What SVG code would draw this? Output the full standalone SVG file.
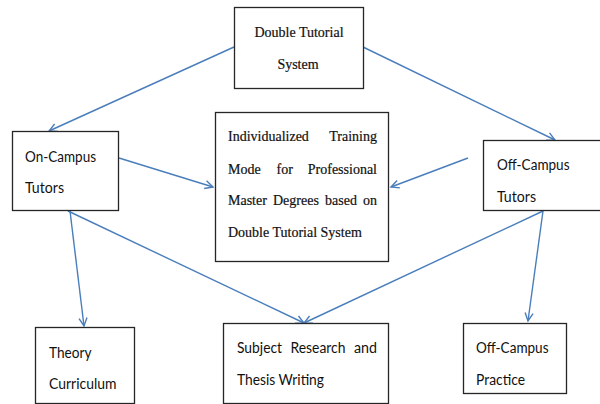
<svg xmlns="http://www.w3.org/2000/svg" width="600" height="404" viewBox="0 0 600 404">
<defs>
<style>
.box{fill:#fff;stroke:#262626;stroke-width:1.3}
.ser{font-family:"Liberation Serif","Times New Roman",serif;font-size:14px;fill:#111;stroke:#111;stroke-width:0.2}
.san{font-family:Lato,"Liberation Sans",Arial,sans-serif;font-size:14.5px;fill:#111}
.con{stroke:#4A7EBB;stroke-width:1.4;fill:none;marker-end:url(#arr)}
</style>
<marker id="arr" markerUnits="userSpaceOnUse" markerWidth="12" markerHeight="12" refX="10" refY="6" orient="auto">
<path d="M2,2 L10,6 L2,10" fill="none" stroke="#4A7EBB" stroke-width="1.4"/>
</marker>
</defs>
<rect width="600" height="404" fill="#fff"/>
<g id="connectors">
<line class="con" x1="234" y1="47" x2="49" y2="131"/>
<line class="con" x1="363" y1="47" x2="555" y2="140"/>
<line class="con" x1="119" y1="158" x2="213" y2="187"/>
<line class="con" x1="468" y1="158" x2="391" y2="187"/>
<line class="con" x1="70" y1="211" x2="84" y2="326"/>
<line class="con" x1="68" y1="211" x2="304" y2="323"/>
<line class="con" x1="543" y1="211" x2="304" y2="323"/>
<line class="con" x1="543" y1="211" x2="528" y2="321"/>
</g>
<g id="top">
<rect class="box" x="234.5" y="7.5" width="129" height="81"/>
<text class="ser" x="299" y="37" text-anchor="middle">Double Tutorial</text>
<text class="ser" x="298" y="69" text-anchor="middle">System</text>
</g>
<g id="center">
<rect class="box" x="215.5" y="112.5" width="173" height="149"/>
<text class="ser" x="228" y="141">Individualized</text>
<text class="ser" x="377" y="141" text-anchor="end">Training</text>
<text class="ser" x="228" y="173.5">Mode</text>
<text class="ser" x="276.5" y="173.5">for</text>
<text class="ser" x="377" y="173.5" text-anchor="end">Professional</text>
<text class="ser" x="228" y="205">Master</text>
<text class="ser" x="273" y="205">Degrees</text>
<text class="ser" x="325" y="205">based</text>
<text class="ser" x="377" y="205" text-anchor="end">on</text>
<text class="ser" x="228" y="237">Double Tutorial System</text>
</g>
<g id="oncampus">
<rect class="box" x="12.5" y="131.5" width="106" height="79"/>
<text class="san" x="25" y="162" textLength="71" lengthAdjust="spacingAndGlyphs">On-Campus</text>
<text class="san" x="25" y="193" textLength="39" lengthAdjust="spacingAndGlyphs">Tutors</text>
</g>
<g id="offcampus">
<rect class="box" x="483.5" y="140.5" width="130" height="70"/>
<text class="san" x="497" y="170" textLength="72.5" lengthAdjust="spacingAndGlyphs">Off-Campus</text>
<text class="san" x="497" y="202" textLength="39" lengthAdjust="spacingAndGlyphs">Tutors</text>
</g>
<g id="theory">
<rect class="box" x="35.5" y="327.5" width="99" height="76"/>
<text class="san" x="49" y="358" textLength="42.5" lengthAdjust="spacingAndGlyphs">Theory</text>
<text class="san" x="49" y="389" textLength="67.5" lengthAdjust="spacingAndGlyphs">Curriculum</text>
</g>
<g id="subject">
<rect class="box" x="223.5" y="323.5" width="165" height="80"/>
<text class="san" x="237" y="353" textLength="45" lengthAdjust="spacingAndGlyphs">Subject</text>
<text class="san" x="290.5" y="353" textLength="55" lengthAdjust="spacingAndGlyphs">Research</text>
<text class="san" x="354" y="353" textLength="23" lengthAdjust="spacingAndGlyphs">and</text>
<text class="san" x="237" y="385" textLength="87" lengthAdjust="spacingAndGlyphs">Thesis Writing</text>
</g>
<g id="practice">
<rect class="box" x="463.5" y="323.5" width="103" height="70"/>
<text class="san" x="476" y="353" textLength="72.5" lengthAdjust="spacingAndGlyphs">Off-Campus</text>
<text class="san" x="476" y="385" textLength="49" lengthAdjust="spacingAndGlyphs">Practice</text>
</g>
</svg>
